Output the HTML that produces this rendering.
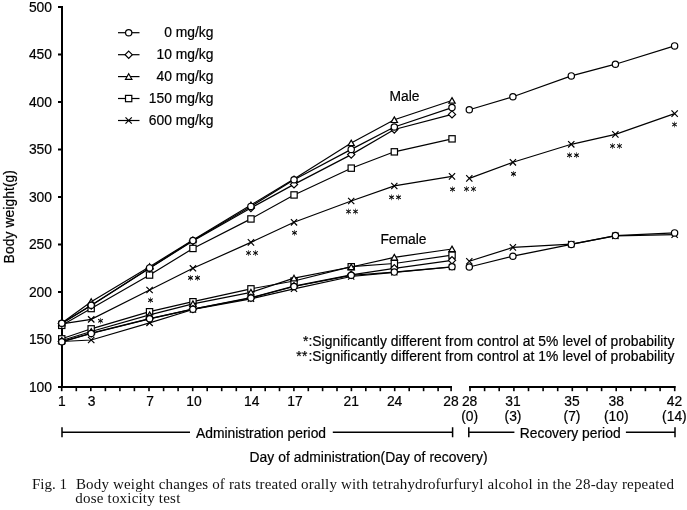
<!DOCTYPE html>
<html><head><meta charset="utf-8"><title>Fig. 1</title>
<style>
html,body{margin:0;padding:0;background:#fff;}
body{width:687px;height:510px;overflow:hidden;font-family:"Liberation Sans",sans-serif;}
svg{display:block;filter:grayscale(1);}
text{font-family:"Liberation Sans",sans-serif;font-size:13.85px;fill:#000;stroke:#000;stroke-width:0.2px;}
text.c{font-family:"Liberation Serif",serif;font-size:15px;stroke:none;fill:#111;}
.l{fill:none;stroke:#000;stroke-width:1.2;}
.m{fill:#fff;stroke:#000;stroke-width:1.2;}
.a{fill:none;stroke:#000;stroke-width:1.05;}
.b{fill:none;stroke:#000;stroke-width:1.5;}
</style></head>
<body>
<svg width="687" height="510" viewBox="0 0 687 510">
<rect width="687" height="510" fill="#fff"/>
<rect x="61" y="6" width="2" height="382" fill="#000"/>
<rect x="58" y="6.0" width="4" height="2" fill="#000"/>
<text x="52" y="11.6" text-anchor="end">500</text>
<rect x="58" y="53.5" width="4" height="2" fill="#000"/>
<text x="52" y="59.1" text-anchor="end">450</text>
<rect x="58" y="101.0" width="4" height="2" fill="#000"/>
<text x="52" y="106.6" text-anchor="end">400</text>
<rect x="58" y="148.5" width="4" height="2" fill="#000"/>
<text x="52" y="154.1" text-anchor="end">350</text>
<rect x="58" y="196.0" width="4" height="2" fill="#000"/>
<text x="52" y="201.6" text-anchor="end">300</text>
<rect x="58" y="243.5" width="4" height="2" fill="#000"/>
<text x="52" y="249.1" text-anchor="end">250</text>
<rect x="58" y="291.0" width="4" height="2" fill="#000"/>
<text x="52" y="296.6" text-anchor="end">200</text>
<rect x="58" y="338.5" width="4" height="2" fill="#000"/>
<text x="52" y="344.1" text-anchor="end">150</text>
<rect x="58" y="386.0" width="4" height="2" fill="#000"/>
<text x="52" y="391.6" text-anchor="end">100</text>
<rect x="61" y="386" width="391" height="2" fill="#000"/>
<rect x="469" y="386" width="206.5" height="2" fill="#000"/>
<rect x="60.9" y="386" width="1.6" height="5.2" fill="#000"/>
<rect x="75.5" y="386" width="1.6" height="5.2" fill="#000"/>
<rect x="90.0" y="386" width="1.6" height="5.2" fill="#000"/>
<rect x="104.6" y="386" width="1.6" height="5.2" fill="#000"/>
<rect x="119.1" y="386" width="1.6" height="5.2" fill="#000"/>
<rect x="133.6" y="386" width="1.6" height="5.2" fill="#000"/>
<rect x="148.2" y="386" width="1.6" height="5.2" fill="#000"/>
<rect x="162.8" y="386" width="1.6" height="5.2" fill="#000"/>
<rect x="177.3" y="386" width="1.6" height="5.2" fill="#000"/>
<rect x="191.9" y="386" width="1.6" height="5.2" fill="#000"/>
<rect x="206.4" y="386" width="1.6" height="5.2" fill="#000"/>
<rect x="220.9" y="386" width="1.6" height="5.2" fill="#000"/>
<rect x="235.5" y="386" width="1.6" height="5.2" fill="#000"/>
<rect x="250.1" y="386" width="1.6" height="5.2" fill="#000"/>
<rect x="264.4" y="386" width="1.6" height="5.2" fill="#000"/>
<rect x="278.7" y="386" width="1.6" height="5.2" fill="#000"/>
<rect x="293.1" y="386" width="1.6" height="5.2" fill="#000"/>
<rect x="307.5" y="386" width="1.6" height="5.2" fill="#000"/>
<rect x="321.8" y="386" width="1.6" height="5.2" fill="#000"/>
<rect x="336.2" y="386" width="1.6" height="5.2" fill="#000"/>
<rect x="350.6" y="386" width="1.6" height="5.2" fill="#000"/>
<rect x="365.0" y="386" width="1.6" height="5.2" fill="#000"/>
<rect x="379.5" y="386" width="1.6" height="5.2" fill="#000"/>
<rect x="393.9" y="386" width="1.6" height="5.2" fill="#000"/>
<rect x="408.4" y="386" width="1.6" height="5.2" fill="#000"/>
<rect x="422.8" y="386" width="1.6" height="5.2" fill="#000"/>
<rect x="437.3" y="386" width="1.6" height="5.2" fill="#000"/>
<rect x="450.3" y="386" width="1.6" height="5.2" fill="#000"/>
<rect x="469.2" y="386" width="1.6" height="5.2" fill="#000"/>
<rect x="483.8" y="386" width="1.6" height="5.2" fill="#000"/>
<rect x="498.4" y="386" width="1.6" height="5.2" fill="#000"/>
<rect x="513.1" y="386" width="1.6" height="5.2" fill="#000"/>
<rect x="527.7" y="386" width="1.6" height="5.2" fill="#000"/>
<rect x="542.3" y="386" width="1.6" height="5.2" fill="#000"/>
<rect x="556.9" y="386" width="1.6" height="5.2" fill="#000"/>
<rect x="571.5" y="386" width="1.6" height="5.2" fill="#000"/>
<rect x="586.2" y="386" width="1.6" height="5.2" fill="#000"/>
<rect x="600.8" y="386" width="1.6" height="5.2" fill="#000"/>
<rect x="615.4" y="386" width="1.6" height="5.2" fill="#000"/>
<rect x="630.0" y="386" width="1.6" height="5.2" fill="#000"/>
<rect x="644.6" y="386" width="1.6" height="5.2" fill="#000"/>
<rect x="659.3" y="386" width="1.6" height="5.2" fill="#000"/>
<rect x="673.9" y="386" width="1.6" height="5.2" fill="#000"/>
<text x="61.8" y="405.8" text-anchor="middle">1</text>
<text x="91.5" y="405.8" text-anchor="middle">3</text>
<text x="150" y="405.8" text-anchor="middle">7</text>
<text x="194" y="405.8" text-anchor="middle">10</text>
<text x="251.8" y="405.8" text-anchor="middle">14</text>
<text x="295" y="405.8" text-anchor="middle">17</text>
<text x="351.2" y="405.8" text-anchor="middle">21</text>
<text x="394.6" y="405.8" text-anchor="middle">24</text>
<text x="451" y="405.8" text-anchor="middle">28</text>
<text x="469.6" y="405.8" text-anchor="middle">28</text>
<text x="469.6" y="421" text-anchor="middle">(0)</text>
<text x="513" y="405.8" text-anchor="middle">31</text>
<text x="513" y="421" text-anchor="middle">(3)</text>
<text x="572" y="405.8" text-anchor="middle">35</text>
<text x="572" y="421" text-anchor="middle">(7)</text>
<text x="616.2" y="405.8" text-anchor="middle">38</text>
<text x="616.2" y="421" text-anchor="middle">(10)</text>
<text x="674.4" y="405.8" text-anchor="middle">42</text>
<text x="674.4" y="421" text-anchor="middle">(14)</text>
<path d="M62 427.3V437.2M62 432.2H190M332.8 432.2H452.6M452.6 427.3V437.2" class="b"/>
<path d="M468.8 427.3V437.2M468.8 432.2H514.4M625.9 432.2H675M675 427.3V437.2" class="b"/>
<text x="196" y="438">Administration period</text>
<text x="519.8" y="438">Recovery period</text>
<text x="249.5" y="461.9" textLength="238" lengthAdjust="spacing">Day of administration(Day of recovery)</text>
<text transform="translate(14,263.4) rotate(-90)" textLength="93.4" lengthAdjust="spacing">Body weight(g)</text>
<text x="389.5" y="100.5">Male</text>
<text x="380.4" y="243.6">Female</text>
<text x="303" y="346">*</text><text x="308.6" y="346">:</text>
<text x="312.3" y="346" textLength="362" lengthAdjust="spacing">Significantly different from control at 5% level of probability</text>
<text x="296.2" y="360.8">*</text><text x="302" y="360.8">*</text><text x="308.6" y="360.8">:</text>
<text x="312.3" y="360.8" textLength="362" lengthAdjust="spacing">Significantly different from control at 1% level of probability</text>
<path d="M118 32.7H139.5" class="l"/>
<circle cx="128.7" cy="32.7" r="3.15" class="m"/>
<text x="213.4" y="36.7" text-anchor="end">0 mg/kg</text>
<path d="M118 54.7H139.5" class="l"/>
<path d="M128.7 51.1L132.3 54.7L128.7 58.3L125.1 54.7Z" class="m"/>
<text x="213.4" y="58.7" text-anchor="end">10 mg/kg</text>
<path d="M118 76.6H139.5" class="l"/>
<path d="M128.7 73.7L131.9 79.3L125.5 79.3Z" class="m"/>
<text x="213.4" y="80.6" text-anchor="end">40 mg/kg</text>
<path d="M118 98.5H139.5" class="l"/>
<rect x="125.5" y="95.4" width="6.3" height="6.3" class="m"/>
<text x="213.4" y="102.5" text-anchor="end">150 mg/kg</text>
<path d="M118 120.5H139.5" class="l"/>
<path d="M125.5 117.3L131.8 123.7M125.5 123.7L131.8 117.3" class="l"/>
<text x="213.4" y="124.5" text-anchor="end">600 mg/kg</text>
<text class="c" x="32" y="489">Fig. 1</text>
<text class="c" x="75.9" y="489" textLength="598" lengthAdjust="spacing">Body weight changes of rats treated orally with tetrahydrofurfuryl alcohol in the 28-day repeated</text>
<text class="c" x="75.3" y="503" textLength="105" lengthAdjust="spacing">dose toxicity test</text>
<polyline points="61.8,323.8 91.2,319.4 149.6,290.0 192.9,268.3 250.9,242.4 294.0,222.3 351.2,201.0 394.3,185.9 452.0,176.4" class="l"/>
<path d="M58.6 320.7L65.0 326.9M58.6 326.9L65.0 320.7" class="l"/>
<path d="M88.0 316.2L94.4 322.5M88.0 322.5L94.4 316.2" class="l"/>
<path d="M146.4 286.9L152.8 293.1M146.4 293.1L152.8 286.9" class="l"/>
<path d="M189.8 265.2L196.1 271.4M189.8 271.4L196.1 265.2" class="l"/>
<path d="M247.8 239.2L254.1 245.6M247.8 245.6L254.1 239.2" class="l"/>
<path d="M290.9 219.2L297.1 225.5M290.9 225.5L297.1 219.2" class="l"/>
<path d="M348.1 197.8L354.3 204.2M348.1 204.2L354.3 197.8" class="l"/>
<path d="M391.2 182.8L397.4 189.1M391.2 189.1L397.4 182.8" class="l"/>
<path d="M448.9 173.2L455.1 179.6M448.9 179.6L455.1 173.2" class="l"/>
<polyline points="469.3,178.4 512.9,162.3 571.3,144.3 615.4,134.4 674.6,113.6" class="l"/>
<path d="M466.2 175.2L472.4 181.6M466.2 181.6L472.4 175.2" class="l"/>
<path d="M509.8 159.2L516.0 165.5M509.8 165.5L516.0 159.2" class="l"/>
<path d="M568.1 141.2L574.4 147.5M568.1 147.5L574.4 141.2" class="l"/>
<path d="M612.2 131.2L618.5 137.6M612.2 137.6L618.5 131.2" class="l"/>
<path d="M671.5 110.4L677.8 116.8M671.5 116.8L677.8 110.4" class="l"/>
<polyline points="61.8,325.3 91.2,308.5 149.6,275.0 192.9,248.5 250.9,218.9 294.0,195.0 351.2,168.2 394.3,151.8 452.0,138.8" class="l"/>
<rect x="58.6" y="322.2" width="6.3" height="6.3" class="m"/>
<rect x="88.0" y="305.4" width="6.3" height="6.3" class="m"/>
<rect x="146.4" y="271.9" width="6.3" height="6.3" class="m"/>
<rect x="189.8" y="245.3" width="6.3" height="6.3" class="m"/>
<rect x="247.8" y="215.8" width="6.3" height="6.3" class="m"/>
<rect x="290.9" y="191.8" width="6.3" height="6.3" class="m"/>
<rect x="348.1" y="165.0" width="6.3" height="6.3" class="m"/>
<rect x="391.2" y="148.7" width="6.3" height="6.3" class="m"/>
<rect x="448.9" y="135.7" width="6.3" height="6.3" class="m"/>
<polyline points="61.8,323.0 91.2,301.7 149.6,266.7 192.9,240.0 250.9,205.0 294.0,179.0 351.2,143.0 394.3,119.8 452.0,100.5" class="l"/>
<path d="M61.8 320.1L65.0 325.7L58.6 325.7Z" class="m"/>
<path d="M91.2 298.8L94.4 304.4L88.0 304.4Z" class="m"/>
<path d="M149.6 263.8L152.8 269.4L146.4 269.4Z" class="m"/>
<path d="M192.9 237.1L196.1 242.7L189.7 242.7Z" class="m"/>
<path d="M250.9 202.1L254.1 207.7L247.7 207.7Z" class="m"/>
<path d="M294.0 176.1L297.2 181.7L290.8 181.7Z" class="m"/>
<path d="M351.2 140.1L354.4 145.7L348.0 145.7Z" class="m"/>
<path d="M394.3 116.9L397.5 122.5L391.1 122.5Z" class="m"/>
<path d="M452.0 97.6L455.2 103.2L448.8 103.2Z" class="m"/>
<polyline points="61.8,323.5 91.2,305.5 149.6,268.2 192.9,241.0 250.9,208.0 294.0,184.4 351.2,154.6 394.3,129.5 452.0,114.4" class="l"/>
<path d="M61.8 319.9L65.4 323.5L61.8 327.1L58.2 323.5Z" class="m"/>
<path d="M91.2 301.9L94.8 305.5L91.2 309.1L87.6 305.5Z" class="m"/>
<path d="M149.6 264.6L153.2 268.2L149.6 271.8L146.0 268.2Z" class="m"/>
<path d="M192.9 237.4L196.5 241.0L192.9 244.6L189.3 241.0Z" class="m"/>
<path d="M250.9 204.4L254.5 208.0L250.9 211.6L247.3 208.0Z" class="m"/>
<path d="M294.0 180.8L297.6 184.4L294.0 188.0L290.4 184.4Z" class="m"/>
<path d="M351.2 151.0L354.8 154.6L351.2 158.2L347.6 154.6Z" class="m"/>
<path d="M394.3 125.9L397.9 129.5L394.3 133.1L390.7 129.5Z" class="m"/>
<path d="M452.0 110.8L455.6 114.4L452.0 118.0L448.4 114.4Z" class="m"/>
<polyline points="61.8,323.3 91.2,305.3 149.6,267.9 192.9,240.6 250.9,206.4 294.0,179.7 351.2,149.4 394.3,127.0 452.0,107.6" class="l"/>
<circle cx="61.8" cy="323.3" r="3.15" class="m"/>
<circle cx="91.2" cy="305.3" r="3.15" class="m"/>
<circle cx="149.6" cy="267.9" r="3.15" class="m"/>
<circle cx="192.9" cy="240.6" r="3.15" class="m"/>
<circle cx="250.9" cy="206.4" r="3.15" class="m"/>
<circle cx="294.0" cy="179.7" r="3.15" class="m"/>
<circle cx="351.2" cy="149.4" r="3.15" class="m"/>
<circle cx="394.3" cy="127.0" r="3.15" class="m"/>
<circle cx="452.0" cy="107.6" r="3.15" class="m"/>
<polyline points="469.3,109.7 512.9,96.7 571.3,75.9 615.4,64.2 674.6,45.9" class="l"/>
<circle cx="469.3" cy="109.7" r="3.15" class="m"/>
<circle cx="512.9" cy="96.7" r="3.15" class="m"/>
<circle cx="571.3" cy="75.9" r="3.15" class="m"/>
<circle cx="615.4" cy="64.2" r="3.15" class="m"/>
<circle cx="674.6" cy="45.9" r="3.15" class="m"/>
<polyline points="61.8,341.5 91.2,340.0 149.6,322.9 192.9,309.5 250.9,298.8 294.0,288.8 351.2,276.5 394.3,272.3 452.0,267.0" class="l"/>
<path d="M58.6 338.4L65.0 344.6M58.6 344.6L65.0 338.4" class="l"/>
<path d="M88.0 336.9L94.4 343.1M88.0 343.1L94.4 336.9" class="l"/>
<path d="M146.4 319.8L152.8 326.0M146.4 326.0L152.8 319.8" class="l"/>
<path d="M189.8 306.4L196.1 312.6M189.8 312.6L196.1 306.4" class="l"/>
<path d="M247.8 295.7L254.1 301.9M247.8 301.9L254.1 295.7" class="l"/>
<path d="M290.9 285.7L297.1 291.9M290.9 291.9L297.1 285.7" class="l"/>
<path d="M348.1 273.4L354.3 279.6M348.1 279.6L354.3 273.4" class="l"/>
<path d="M391.2 269.2L397.4 275.4M391.2 275.4L397.4 269.2" class="l"/>
<path d="M448.9 263.9L455.1 270.1M448.9 270.1L455.1 263.9" class="l"/>
<polyline points="469.3,261.2 512.9,247.4 571.3,244.2 615.4,235.8 674.6,234.7" class="l"/>
<path d="M466.2 258.1L472.4 264.3M466.2 264.3L472.4 258.1" class="l"/>
<path d="M509.8 244.2L516.0 250.6M509.8 250.6L516.0 244.2" class="l"/>
<path d="M568.1 241.0L574.4 247.3M568.1 247.3L574.4 241.0" class="l"/>
<path d="M612.2 232.7L618.5 239.0M612.2 239.0L618.5 232.7" class="l"/>
<path d="M671.5 231.5L677.8 237.8M671.5 237.8L677.8 231.5" class="l"/>
<polyline points="61.8,338.8 91.2,328.8 149.6,311.7 192.9,301.7 250.9,288.8 294.0,281.0 351.2,266.7 394.3,263.5 452.0,255.2" class="l"/>
<rect x="58.6" y="335.7" width="6.3" height="6.3" class="m"/>
<rect x="88.0" y="325.7" width="6.3" height="6.3" class="m"/>
<rect x="146.4" y="308.6" width="6.3" height="6.3" class="m"/>
<rect x="189.8" y="298.6" width="6.3" height="6.3" class="m"/>
<rect x="247.8" y="285.7" width="6.3" height="6.3" class="m"/>
<rect x="290.9" y="277.9" width="6.3" height="6.3" class="m"/>
<rect x="348.1" y="263.6" width="6.3" height="6.3" class="m"/>
<rect x="391.2" y="260.4" width="6.3" height="6.3" class="m"/>
<rect x="448.9" y="252.0" width="6.3" height="6.3" class="m"/>
<polyline points="61.8,340.5 91.2,331.5 149.6,314.8 192.9,303.8 250.9,292.3 294.0,278.2 351.2,267.0 394.3,257.3 452.0,249.0" class="l"/>
<path d="M61.8 337.6L65.0 343.2L58.6 343.2Z" class="m"/>
<path d="M91.2 328.6L94.4 334.2L88.0 334.2Z" class="m"/>
<path d="M149.6 311.9L152.8 317.5L146.4 317.5Z" class="m"/>
<path d="M192.9 300.9L196.1 306.5L189.7 306.5Z" class="m"/>
<path d="M250.9 289.4L254.1 295.0L247.7 295.0Z" class="m"/>
<path d="M294.0 275.3L297.2 280.9L290.8 280.9Z" class="m"/>
<path d="M351.2 264.1L354.4 269.7L348.0 269.7Z" class="m"/>
<path d="M394.3 254.4L397.5 260.0L391.1 260.0Z" class="m"/>
<path d="M452.0 246.1L455.2 251.7L448.8 251.7Z" class="m"/>
<polyline points="61.8,341.6 91.2,333.2 149.6,318.7 192.9,309.1 250.9,297.7 294.0,286.2 351.2,274.8 394.3,268.3 452.0,260.3" class="l"/>
<path d="M61.8 338.0L65.4 341.6L61.8 345.2L58.2 341.6Z" class="m"/>
<path d="M91.2 329.6L94.8 333.2L91.2 336.8L87.6 333.2Z" class="m"/>
<path d="M149.6 315.1L153.2 318.7L149.6 322.3L146.0 318.7Z" class="m"/>
<path d="M192.9 305.5L196.5 309.1L192.9 312.7L189.3 309.1Z" class="m"/>
<path d="M250.9 294.1L254.5 297.7L250.9 301.3L247.3 297.7Z" class="m"/>
<path d="M294.0 282.6L297.6 286.2L294.0 289.8L290.4 286.2Z" class="m"/>
<path d="M351.2 271.2L354.8 274.8L351.2 278.4L347.6 274.8Z" class="m"/>
<path d="M394.3 264.7L397.9 268.3L394.3 271.9L390.7 268.3Z" class="m"/>
<path d="M452.0 256.7L455.6 260.3L452.0 263.9L448.4 260.3Z" class="m"/>
<polyline points="61.8,341.8 91.2,333.5 149.6,318.8 192.9,309.2 250.9,298.0 294.0,286.5 351.2,275.3 394.3,272.1 452.0,266.8" class="l"/>
<circle cx="61.8" cy="341.8" r="3.15" class="m"/>
<circle cx="91.2" cy="333.5" r="3.15" class="m"/>
<circle cx="149.6" cy="318.8" r="3.15" class="m"/>
<circle cx="192.9" cy="309.2" r="3.15" class="m"/>
<circle cx="250.9" cy="298.0" r="3.15" class="m"/>
<circle cx="294.0" cy="286.5" r="3.15" class="m"/>
<circle cx="351.2" cy="275.3" r="3.15" class="m"/>
<circle cx="394.3" cy="272.1" r="3.15" class="m"/>
<circle cx="452.0" cy="266.8" r="3.15" class="m"/>
<polyline points="469.3,267.0 512.9,256.2 571.3,244.4 615.4,235.6 674.6,232.9" class="l"/>
<circle cx="469.3" cy="267.0" r="3.15" class="m"/>
<circle cx="512.9" cy="256.2" r="3.15" class="m"/>
<circle cx="571.3" cy="244.4" r="3.15" class="m"/>
<circle cx="615.4" cy="235.6" r="3.15" class="m"/>
<circle cx="674.6" cy="232.9" r="3.15" class="m"/>
<path d="M100.5 317.9V323.7" class="a" style="stroke-width:.75;stroke:#333"/><path d="M98.2 319.2L102.8 322.4M98.2 322.4L102.8 319.2" class="a"/>
<path d="M150.5 297.3V303.1" class="a" style="stroke-width:.75;stroke:#333"/><path d="M148.2 298.6L152.8 301.8M148.2 301.8L152.8 298.6" class="a"/>
<path d="M294.5 229.9V235.7" class="a" style="stroke-width:.75;stroke:#333"/><path d="M292.2 231.2L296.8 234.4M292.2 234.4L296.8 231.2" class="a"/>
<path d="M452.5 186.4V192.2" class="a" style="stroke-width:.75;stroke:#333"/><path d="M450.2 187.7L454.8 190.9M450.2 190.9L454.8 187.7" class="a"/>
<path d="M513.5 171.0V176.8" class="a" style="stroke-width:.75;stroke:#333"/><path d="M511.2 172.3L515.8 175.5M511.2 175.5L515.8 172.3" class="a"/>
<path d="M674.5 121.6V127.4" class="a" style="stroke-width:.75;stroke:#333"/><path d="M672.2 122.9L676.8 126.1M672.2 126.1L676.8 122.9" class="a"/>
<path d="M190.5 275.0V280.8" class="a" style="stroke-width:.75;stroke:#333"/><path d="M188.2 276.3L192.8 279.5M188.2 279.5L192.8 276.3" class="a"/><path d="M197.5 275.0V280.8" class="a" style="stroke-width:.75;stroke:#333"/><path d="M195.2 276.3L199.8 279.5M195.2 279.5L199.8 276.3" class="a"/>
<path d="M248.5 250.1V255.9" class="a" style="stroke-width:.75;stroke:#333"/><path d="M246.2 251.4L250.8 254.6M246.2 254.6L250.8 251.4" class="a"/><path d="M255.5 250.1V255.9" class="a" style="stroke-width:.75;stroke:#333"/><path d="M253.2 251.4L257.8 254.6M253.2 254.6L257.8 251.4" class="a"/>
<path d="M348.5 208.6V214.4" class="a" style="stroke-width:.75;stroke:#333"/><path d="M346.2 209.9L350.8 213.1M346.2 213.1L350.8 209.9" class="a"/><path d="M355.5 208.6V214.4" class="a" style="stroke-width:.75;stroke:#333"/><path d="M353.2 209.9L357.8 213.1M353.2 213.1L357.8 209.9" class="a"/>
<path d="M391.5 194.4V200.2" class="a" style="stroke-width:.75;stroke:#333"/><path d="M389.2 195.7L393.8 198.9M389.2 198.9L393.8 195.7" class="a"/><path d="M398.5 194.4V200.2" class="a" style="stroke-width:.75;stroke:#333"/><path d="M396.2 195.7L400.8 198.9M396.2 198.9L400.8 195.7" class="a"/>
<path d="M466.5 186.1V191.9" class="a" style="stroke-width:.75;stroke:#333"/><path d="M464.2 187.4L468.8 190.6M464.2 190.6L468.8 187.4" class="a"/><path d="M473.5 186.1V191.9" class="a" style="stroke-width:.75;stroke:#333"/><path d="M471.2 187.4L475.8 190.6M471.2 190.6L475.8 187.4" class="a"/>
<path d="M569.5 152.3V158.1" class="a" style="stroke-width:.75;stroke:#333"/><path d="M567.2 153.6L571.8 156.8M567.2 156.8L571.8 153.6" class="a"/><path d="M576.5 152.3V158.1" class="a" style="stroke-width:.75;stroke:#333"/><path d="M574.2 153.6L578.8 156.8M574.2 156.8L578.8 153.6" class="a"/>
<path d="M612.5 143.1V148.9" class="a" style="stroke-width:.75;stroke:#333"/><path d="M610.2 144.4L614.8 147.6M610.2 147.6L614.8 144.4" class="a"/><path d="M619.5 143.1V148.9" class="a" style="stroke-width:.75;stroke:#333"/><path d="M617.2 144.4L621.8 147.6M617.2 147.6L621.8 144.4" class="a"/>
</svg>
</body></html>
